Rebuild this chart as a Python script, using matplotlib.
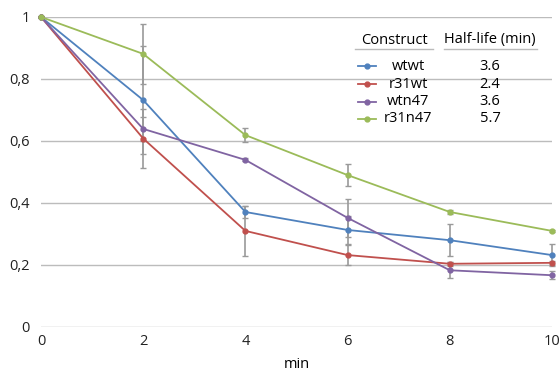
import matplotlib
matplotlib.use("Agg")
import matplotlib.pyplot as plt
from matplotlib.ticker import FuncFormatter

plt.rcParams["font.family"] = ["Open Sans", "DejaVu Sans"]

# Data
minutes = [0, 2, 4, 6, 8, 10]
constructs = ["wtwt", "r31wt", "wtn47", "r31n47"]
half_lives = ["3.6", "2.4", "3.6", "5.7"]
colors = ["#4F81BD", "#C0504D", "#8064A2", "#9BBB59"]

wtwt = [1.0, 0.732, 0.371, 0.313, 0.280, 0.232]
r31wt = [1.0, 0.608, 0.310, 0.232, 0.204, 0.207]
wtn47 = [1.0, 0.639, 0.539, 0.352, 0.183, 0.167]
r31n47 = [1.0, 0.881, 0.619, 0.490, 0.371, 0.310]

wtwt_err = [0, 0.173, 0.020, 0.045, 0.052, 0.035]
r31wt_err = [0, 0.095, 0.080, 0.032, 0.006, 0.006]
wtn47_err = [0, 0.040, 0.005, 0.062, 0.026, 0.013]
r31n47_err = [0, 0.097, 0.023, 0.036, 0.005, 0.004]

series = [wtwt, r31wt, wtn47, r31n47]
errors = [wtwt_err, r31wt_err, wtn47_err, r31n47_err]

FS = 10.5

fig = plt.figure(figsize=(5.6, 3.8), dpi=100)
ax = fig.add_axes([41 / 560, 1 - 327 / 380, 511 / 560, 310 / 380])

for vals, err, c in zip(series, errors, colors):
    ax.errorbar(minutes, vals, yerr=err, fmt="none", ecolor="#9a9a9a",
                elinewidth=1.2, capsize=2.5, capthick=1, zorder=2,
                clip_on=False)
for vals, c in zip(series, colors):
    ax.plot(minutes, vals, color=c, lw=1.3, marker="o", ms=3.5,
            zorder=3, clip_on=False)

ax.set_xlim(0, 10)
ax.set_ylim(0, 1)
ax.set_xticks(minutes)
ax.set_yticks([0, 0.2, 0.4, 0.6, 0.8, 1.0])
ax.yaxis.set_major_formatter(FuncFormatter(
    lambda v, p: "0" if v == 0 else ("1" if v == 1 else f"{v:.1f}".replace(".", ","))))
ax.grid(axis="y", color="#bcbcbc", lw=1)
ax.set_axisbelow(True)
for s in ax.spines.values():
    s.set_visible(False)
ax.tick_params(axis="both", length=0, labelsize=FS, colors="#222222")
ax.tick_params(axis="y", pad=8)
ax.tick_params(axis="x", pad=5)
ax.set_xlabel("min", fontsize=FS, labelpad=6)

# Table-like legend
def fy(px):
    return (327 - px) / 310

def fx(px):
    return (px - 41) / 511

tr = ax.transAxes
ax.text(fx(394), fy(40), "Construct", transform=tr, ha="center", va="center",
        fontsize=FS)
ax.text(fx(490), fy(40), "Half-life (min)", transform=tr, ha="center",
        va="center", fontsize=FS)
ax.plot([fx(355), fx(433)], [fy(49), fy(49)], transform=tr, color="#bbbbbb",
        lw=1, clip_on=False)
ax.plot([fx(444), fx(537)], [fy(49), fy(49)], transform=tr, color="#bbbbbb",
        lw=1, clip_on=False)
rows = [66, 84, 101.5, 118.5]
for name, hl, c, r in zip(constructs, half_lives, colors, rows):
    ax.plot([fx(358), fx(376)], [fy(r), fy(r)], transform=tr, color=c, lw=1.3,
            clip_on=False)
    ax.plot([fx(367)], [fy(r)], transform=tr, color=c, marker="o", ms=3.5,
            clip_on=False)
    ax.text(fx(408), fy(r), name, transform=tr, ha="center", va="center",
            fontsize=FS)
    ax.text(fx(490), fy(r), hl, transform=tr, ha="center", va="center",
            fontsize=FS)

fig.savefig("out.png", dpi=100, facecolor="white")
